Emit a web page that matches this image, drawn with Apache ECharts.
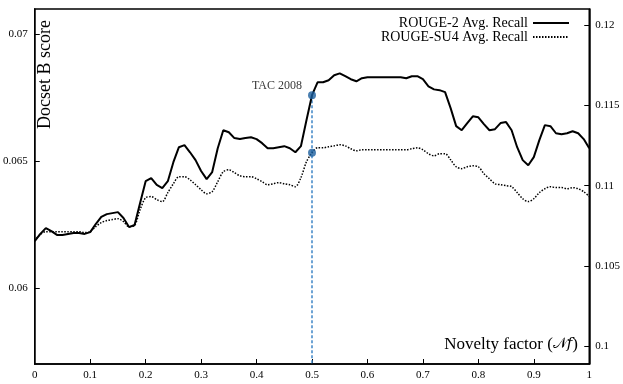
<!DOCTYPE html>
<html>
<head>
<meta charset="utf-8">
<script src="https://cdn.jsdelivr.net/npm/echarts@6/dist/echarts.min.js"></script>
<style>
  html, body { margin: 0; padding: 0; background: #fff; }
  #main { width: 623px; height: 384px; }
</style>
</head>
<body>
<div id="main"></div>
<script>
// novelty factor steps 0 .. 1
var xStep = 0.01;
var rouge2 = [
  0.06185, 0.06213, 0.06236, 0.06224, 0.06209, 0.06209, 0.06213, 0.06217, 0.06217, 0.06213,
  0.06220, 0.06252, 0.06280, 0.06291, 0.06295, 0.06299, 0.06276, 0.06240, 0.06248, 0.06335,
  0.06421, 0.06433, 0.06406, 0.06394, 0.06421, 0.06496, 0.06555, 0.06563, 0.06535, 0.06504,
  0.06461, 0.06429, 0.06457, 0.06551, 0.06622, 0.06614, 0.06591, 0.06587, 0.06591, 0.06594,
  0.06587, 0.06571, 0.06551, 0.06551, 0.06555, 0.06559, 0.06551, 0.06535, 0.06559, 0.06661,
  0.06760, 0.06811, 0.06811, 0.06819, 0.06839, 0.06846, 0.06835, 0.06823, 0.06815, 0.06827,
  0.06831, 0.06831, 0.06831, 0.06831, 0.06831, 0.06831, 0.06831, 0.06827, 0.06835, 0.06835,
  0.06823, 0.06795, 0.06783, 0.06780, 0.06772, 0.06709, 0.06638, 0.06622, 0.06650, 0.06677,
  0.06673, 0.06646, 0.06622, 0.06626, 0.06650, 0.06654, 0.06622, 0.06555, 0.06504, 0.06484,
  0.06516, 0.06583, 0.06642, 0.06638, 0.06610, 0.06606, 0.06610, 0.06618, 0.06610, 0.06587,
  0.06551
];
var rougeSU4 = [
  0.10658, 0.10696, 0.10714, 0.10714, 0.10714, 0.10714, 0.10714, 0.10714, 0.10714, 0.10708,
  0.10714, 0.10745, 0.10770, 0.10783, 0.10789, 0.10795, 0.10776, 0.10745, 0.10752, 0.10851,
  0.10925, 0.10932, 0.10913, 0.10901, 0.10957, 0.11012, 0.11056, 0.11056, 0.11037, 0.11006,
  0.10975, 0.10950, 0.10963, 0.11025, 0.11087, 0.11099, 0.11081, 0.11062, 0.11056, 0.11056,
  0.11043, 0.11025, 0.11006, 0.11012, 0.11019, 0.11012, 0.11006, 0.10994, 0.11050, 0.11149,
  0.11205, 0.11236, 0.11236, 0.11242, 0.11248, 0.11255, 0.11248, 0.11230, 0.11217, 0.11224,
  0.11224, 0.11224, 0.11224, 0.11224, 0.11224, 0.11224, 0.11224, 0.11224, 0.11230, 0.11236,
  0.11224, 0.11199, 0.11186, 0.11199, 0.11199, 0.11161, 0.11118, 0.11106, 0.11118, 0.11124,
  0.11118, 0.11075, 0.11043, 0.11012, 0.11006, 0.11000, 0.10994, 0.10957, 0.10919, 0.10901,
  0.10919, 0.10957, 0.10981, 0.10994, 0.10988, 0.10988, 0.10981, 0.10988, 0.10981, 0.10963,
  0.10932
];
var leftTicks = [0.06, 0.065, 0.07];
var rightTicks = [0.1, 0.105, 0.11, 0.115, 0.12];
var tacX = 0.5;
var tacIndex = 50;
var seriesNames = ['ROUGE-2 Avg. Recall', 'ROUGE-SU4 Avg. Recall'];

var serif = 'Liberation Serif';

function toPairs(arr) {
    return arr.map(function(v, i) { return [+(i * xStep).toFixed(2), v]; });
}

var option = {
    animation: false,
    backgroundColor: '#fff',
    textStyle: { fontFamily: serif },
    grid: {
        left: 34, right: 33, top: 9, bottom: 20,
        show: true, borderColor: '#000', borderWidth: 1.5
    },
    legend: {
        data: seriesNames,
        orient: 'vertical',
        right: 48, top: 11,
        itemWidth: 36, itemHeight: 10, itemGap: 0,
        align: 'right',
        itemStyle: { opacity: 0 },
        textStyle: { fontFamily: serif, fontSize: 14, color: '#000' }
    },
    graphic: [{
        type: 'text',
        left: 36, top: 20,
        rotation: Math.PI / 2,
        style: { text: 'Docset B score', fontFamily: serif, fontSize: 18, fill: '#000' }
    }, {
        type: 'text',
        right: 45, top: 336,
        style: {
            text: '{a|Novelty factor (}{m|\uD835\uDCA9\uD835\uDC53}{a|)}',
            rich: {
                a: { fontFamily: serif, fontSize: 17, fill: '#000' },
                m: { fontFamily: 'DejaVu Serif', fontSize: 15, fill: '#000' }
            }
        }
    }],
    xAxis: {
        type: 'value', min: 0, max: 1, interval: 0.1,
        axisLine: { lineStyle: { color: '#000', width: 1.5 } },
        axisTick: { inside: true, length: 5, lineStyle: { color: '#000' } },
        axisLabel: { color: '#000', fontFamily: serif, fontSize: 11, margin: 6 },
        splitLine: { show: false }
    },
    yAxis: [{
        type: 'value', min: 0.057, max: 0.071, position: 'left',
        axisLine: { show: true, lineStyle: { color: '#000', width: 1.5 } },
        axisTick: { show: true, inside: true, length: 5, customValues: leftTicks, lineStyle: { color: '#000' } },
        axisLabel: { color: '#000', fontFamily: serif, fontSize: 11, margin: 7, customValues: leftTicks },
        splitLine: { show: false }
    }, {
        type: 'value', min: 0.0989, max: 0.121, position: 'right',
        axisLine: { show: true, lineStyle: { color: '#000', width: 1.5 } },
        axisTick: { show: true, inside: true, length: 5, customValues: rightTicks, lineStyle: { color: '#000' } },
        axisLabel: { color: '#000', fontFamily: serif, fontSize: 11, margin: 6, customValues: rightTicks },
        splitLine: { show: false }
    }],
    series: [{
        name: seriesNames[0],
        type: 'line',
        yAxisIndex: 0,
        symbol: 'none',
        lineStyle: { color: '#000', width: 2 },
        itemStyle: { color: '#000' },
        data: toPairs(rouge2),
        z: 3
    }, {
        name: seriesNames[1],
        type: 'line',
        yAxisIndex: 1,
        symbol: 'none',
        smooth: 0.3,
        lineStyle: { color: '#000', width: 1.5, type: [1.5, 1.5] },
        itemStyle: { color: '#000' },
        data: toPairs(rougeSU4),
        z: 3
    }, {
        name: 'tacLine',
        type: 'line',
        yAxisIndex: 0,
        symbol: 'none',
        lineStyle: { color: '#3d85c6', width: 1.5, type: [3, 2] },
        data: [[tacX, rouge2[tacIndex]], [tacX, 0.057]],
        z: 2
    }, {
        name: 'tacR2',
        type: 'scatter',
        yAxisIndex: 0,
        symbolSize: 8,
        itemStyle: { color: '#1d5f9e' },
        label: {
            show: true, position: 'left', offset: [-1, -9],
            formatter: 'TAC 2008', color: '#000', fontFamily: serif, fontSize: 12
        },
        data: [[tacX, rouge2[tacIndex]]],
        z: 5
    }, {
        name: 'tacSU4',
        type: 'scatter',
        yAxisIndex: 1,
        symbolSize: 8,
        itemStyle: { color: '#1d5f9e' },
        data: [[tacX, rougeSU4[tacIndex]]],
        z: 5
    }]
};

var myChart = echarts.init(document.getElementById('main'));
myChart.setOption(option);
</script>
</body>
</html>
